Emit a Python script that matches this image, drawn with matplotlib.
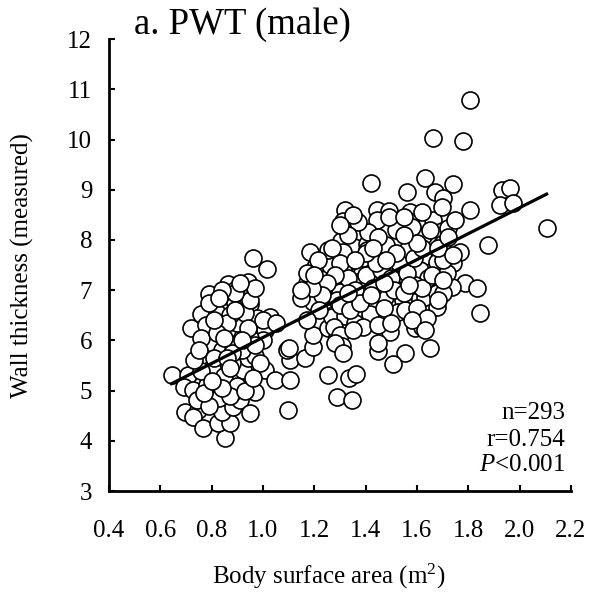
import matplotlib
matplotlib.use("Agg")
import matplotlib.pyplot as plt
import numpy as np

plt.rcParams["font.family"] = ["Liberation Serif", "DejaVu Serif"]
plt.rcParams["mathtext.fontset"] = "custom"
plt.rcParams["mathtext.rm"] = "Liberation Serif"
plt.rcParams["mathtext.it"] = "Liberation Serif:italic"

# Body surface area (m2) vs measured posterior wall thickness
bsa = [
    # left cluster
    0.644, 0.709, 0.692, 0.728, 0.696, 0.748, 0.742, 0.728, 0.767, 0.852,
    0.826, 0.871, 0.839, 0.884, 0.910, 0.949, 0.878, 0.969, 0.781, 0.839,
    0.904, 0.859, 0.923, 0.943, 0.969, 0.800, 0.767, 0.761, 0.871, 0.832,
    0.917, 1.008, 1.001, 0.826, 0.718, 0.757, 0.845, 0.891, 0.949, 0.936,
    0.791, 0.865, 0.943, 0.891, 0.962, 1.014, 0.975, 1.027, 1.008, 1.047,
    1.105, 1.099, 1.105, 1.093, 1.164, 1.196, 1.254, 1.288, 1.196, 1.254,
    1.287, 1.274, 1.170, 1.170, 1.235, 1.203, 1.261, 1.287,
    # middle cluster
    1.420, 1.631, 1.560, 1.670, 1.319, 1.443, 1.491, 1.573, 1.313, 1.443,
    1.573, 1.663, 1.319, 1.352, 1.303, 1.355, 1.404, 1.527, 1.605, 1.657,
    1.183, 1.254, 1.313, 1.446, 1.510, 1.488, 1.625, 1.215, 1.371, 1.436,
    1.573, 1.677, 1.170, 1.313, 1.385, 1.469, 1.521, 1.612, 1.307, 1.371,
    1.456, 1.560, 1.644, 1.300, 1.358, 1.404, 1.508, 1.592, 1.196, 1.287,
    1.475, 1.547, 1.631, 1.677, 1.268, 1.319, 1.417, 1.527, 1.358, 1.275,
    1.300, 1.307, 1.495, 1.592, 1.618, 1.449, 1.553, 1.651, 1.508, 1.335,
    1.362, 1.346, 1.391, 1.404, 1.560,
    # right side
    1.806, 1.661, 1.778, 1.739, 1.702, 1.930, 1.962, 1.923, 1.975, 1.806,
    2.105, 1.878, 1.696, 1.722, 1.696, 1.767, 1.741, 1.787, 1.833, 1.735,
    1.677, 1.845, 1.696, 1.716, 1.553, 1.623,
    # overlapped points in the dense parts
    0.80, 0.84, 0.88, 0.86, 0.90, 0.82, 0.87, 0.93, 0.78, 0.76,
    0.80, 0.85, 0.88, 0.92, 0.95, 0.97, 0.90, 0.83, 0.79, 0.87,
    0.93, 0.95, 0.89, 0.84, 0.97, 0.91, 0.76, 0.73, 0.75, 0.79,
    0.83, 0.86, 0.88, 0.81, 0.99, 1.00, 0.94, 0.77, 0.84, 0.96,
    1.30, 1.33, 1.36, 1.40, 1.43, 1.46, 1.50, 1.53, 1.56, 1.59,
    1.62, 1.48, 1.41, 1.37, 1.45, 1.52, 1.58, 1.65, 1.28, 1.25,
    1.23, 1.30, 1.34, 1.38, 1.42, 1.47, 1.51, 1.55, 1.60, 1.64,
    1.58, 1.45, 1.35, 1.28, 1.31, 1.50, 1.62, 1.66, 1.70, 1.68,
    1.72, 1.19, 1.22, 1.17, 1.15, 1.20, 1.27, 1.33, 1.39, 1.44,
    1.49, 1.55, 1.62, 1.35, 1.30,
    1.45, 1.63, 1.70, 1.68, 1.75, 1.74, 1.70, 1.10, 1.05, 1.15,
    0.86, 0.82, 0.89, 0.92, 1.40, 1.47, 1.52, 1.36, 1.57, 1.60,
    1.43, 0.80, 0.87, 0.85, 0.81, 1.33, 1.48, 1.55,
]
pwt = [
    # left cluster
    5.31, 5.31, 5.07, 5.01, 4.58, 4.61, 4.81, 4.48, 4.25, 4.05,
    4.35, 4.35, 4.58, 4.68, 4.81, 4.55, 4.95, 4.98, 5.11, 5.08,
    5.21, 5.44, 5.41, 5.64, 5.68, 5.61, 5.71, 5.87, 5.87, 6.04,
    6.17, 6.21, 6.01, 6.34, 6.24, 6.52, 6.64, 6.75, 6.72, 6.87,
    6.92, 7.12, 7.17, 7.00, 7.64, 7.42, 6.44, 6.46, 5.41, 5.21,
    5.21, 4.61, 5.61, 5.81, 5.64, 5.86, 5.31, 4.88, 6.11, 6.24,
    6.07, 6.51, 7.14, 6.94, 7.04, 7.47, 7.50, 7.07,
    # middle cluster
    9.14, 9.23, 8.95, 8.96, 8.60, 8.60, 8.58, 8.56, 8.38, 8.39,
    8.36, 8.40, 8.23, 8.08, 7.98, 7.86, 7.93, 8.00, 8.07, 8.00,
    7.77, 7.80, 7.77, 7.73, 7.67, 7.70, 7.67, 7.60, 7.57, 7.50,
    7.57, 7.57, 7.34, 7.40, 7.34, 7.44, 7.37, 7.40, 7.09, 7.17,
    7.17, 7.24, 7.24, 6.97, 6.87, 7.04, 7.04, 7.10, 6.77, 6.80,
    6.87, 6.80, 6.87, 6.66, 6.47, 6.48, 6.53, 6.56, 6.34, 6.27,
    6.11, 5.89, 6.16, 6.24, 6.27, 5.78, 5.74, 5.84, 5.53, 5.25,
    5.33, 4.81, 6.27, 7.80, 7.80,
    # right side
    10.79, 10.03, 9.98, 9.11, 8.83, 9.00, 9.03, 8.70, 8.73, 8.60,
    8.23, 7.91, 8.17, 8.23, 7.93, 7.77, 7.54, 7.14, 7.04, 7.07,
    6.94, 6.54, 8.66, 7.34, 6.61, 8.07,
    # overlapped points in the dense parts
    5.95, 5.80, 5.95, 6.20, 6.35, 6.55, 6.50, 6.55, 6.30, 6.05,
    5.45, 5.30, 5.55, 5.80, 6.05, 5.90, 5.10, 4.85, 4.70, 4.90,
    5.00, 6.80, 6.95, 7.00, 7.05, 7.15, 5.40, 5.60, 5.80, 6.75,
    6.85, 6.35, 5.75, 5.65, 5.55, 6.40, 6.25, 4.95, 5.05, 5.25,
    7.55, 7.25, 7.00, 7.30, 7.05, 7.40, 7.25, 7.55, 7.35, 7.65,
    7.85, 7.90, 8.15, 8.35, 8.05, 8.20, 8.25, 8.20, 7.30, 7.15,
    6.90, 6.70, 6.60, 6.75, 6.90, 6.65, 7.00, 6.95, 6.65, 6.45,
    6.40, 6.30, 6.20, 5.95, 5.75, 6.35, 7.05, 7.30, 7.60, 7.85,
    8.05, 7.05, 6.60, 6.40, 6.85, 7.30, 7.85, 8.10, 7.65, 7.55,
    8.45, 8.45, 8.55, 8.50, 8.30,
    5.95, 6.20, 6.95, 6.80, 8.40, 7.70, 7.20, 5.85, 6.35, 7.00,
    5.65, 6.15, 6.60, 6.00, 7.75, 7.15, 7.75, 7.60, 7.10, 7.95,
    7.85, 5.20, 5.45, 6.05, 6.40, 6.95, 7.60, 8.10,
]

# regression line
fit_slope = 2.585
fit_intercept = 3.473
stats_lines = ["n=293", "r=0.754", "$P$<0.001"]

x_ticks = [0.4, 0.6, 0.8, 1.0, 1.2, 1.4, 1.6, 1.8, 2.0, 2.2]
y_ticks = [3, 4, 5, 6, 7, 8, 9, 10, 11, 12]

fig = plt.figure(figsize=(5.92, 5.92), dpi=100)
ax = fig.add_axes([0.184, 0.1706, 0.7805, 0.7632])

ax.scatter(bsa, pwt, s=150, facecolor="white", edgecolor="black",
           linewidth=1.2, zorder=2)

xs = np.array([min(bsa), max(bsa)])
ax.plot(xs, fit_intercept + fit_slope * xs, color="black", lw=2.3, zorder=3)

ax.set_xlim(x_ticks[0], x_ticks[-1])
ax.set_ylim(y_ticks[0], y_ticks[-1])
ax.set_xticks(x_ticks)
ax.set_xticklabels([f"{t:.1f}" for t in x_ticks])
ax.set_yticks(y_ticks)
ax.tick_params(direction="in", length=4, width=1.5, labelsize=18)
ax.tick_params(axis="x", pad=21)
ax.tick_params(axis="y", pad=12)
for side in ("top", "right"):
    ax.spines[side].set_visible(False)
for side in ("left", "bottom"):
    ax.spines[side].set_linewidth(2.0)

ax.set_xlabel("Body surface area (m$^2$)", fontsize=18)
ax.xaxis.label.set_va("center")
ax.xaxis.set_label_coords(0.475, -0.19)
ax.set_ylabel("Wall thickness (measured)", fontsize=18)
ax.yaxis.label.set_va("center")
ax.yaxis.set_label_coords(-0.188, 0.5)

for line, yf in zip(stats_lines, [0.173, 0.113, 0.0575]):
    ax.text(0.987, yf, line, transform=ax.transAxes, ha="right", va="center",
            fontsize=18)

fig.text(134 / 592, 1 - 34 / 592, "a. PWT (male)", fontsize=26.5,
         ha="left", va="baseline")

fig.savefig("out.png", dpi=100, facecolor="white")
